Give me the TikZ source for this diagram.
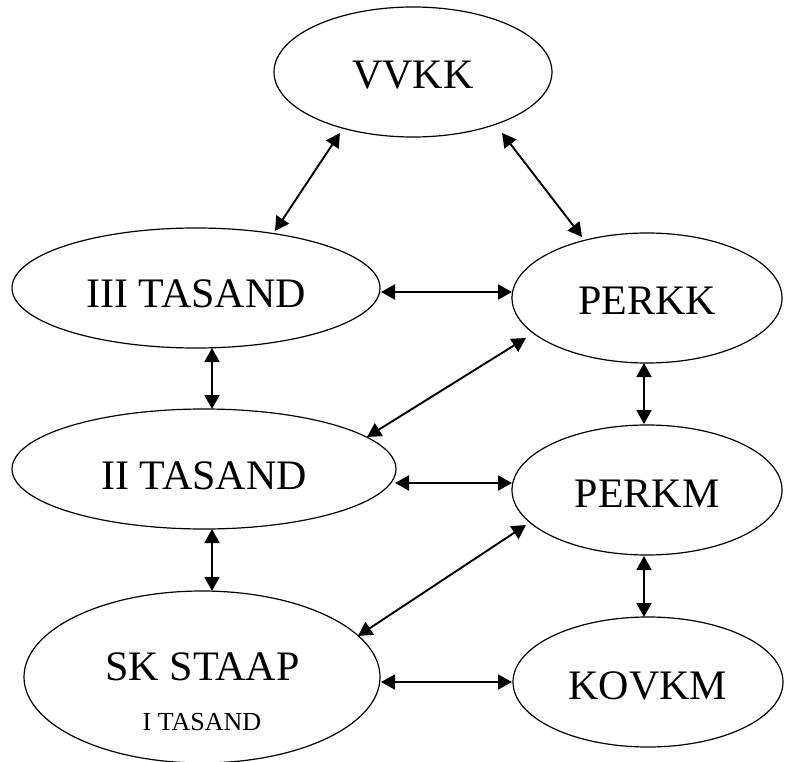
\documentclass[tikz,border=0pt]{standalone}
\usepackage{fontspec}
\setmainfont{Liberation Serif}
\usetikzlibrary{shapes.geometric,arrows.meta,calc}

\begin{document}
\begin{tikzpicture}[x=1pt,y=-1pt,
  oval/.style={draw,ellipse,line width=1.2pt,inner sep=0pt,
    font=\fontsize{42}{50}\selectfont,text height=34pt,text depth=0pt},
  lowtext/.style={text height=40pt},
  lbl/.style={inner sep=0pt,anchor=base},
  biarrow/.style={line width=1.9pt,{Triangle[length=14pt,width=15pt]}-{Triangle[length=14pt,width=15pt]}}]
\useasboundingbox (0,0) rectangle (785,762);

% ellipses
\node[oval,minimum width=278pt,minimum height=130pt] (vvkk)  at (413,72)  {VVKK};
\node[oval,lowtext,minimum width=368pt,minimum height=120pt] (iii)   at (196,288) {III TASAND};
\node[oval,minimum width=270pt,minimum height=130pt] (perkk) at (647,298) {PERKK};
\node[oval,lowtext,minimum width=384pt,minimum height=120pt] (ii)    at (204,469) {II TASAND};
\node[oval,minimum width=270pt,minimum height=130pt] (perkm) at (647,490) {PERKM};
\node[oval,minimum width=356pt,minimum height=172pt] (sk)    at (202,677) {};
\node[oval,minimum width=270pt,minimum height=130pt] (kovkm) at (648,682) {KOVKM};

% two-line text of the bottom-left ellipse
\node[lbl,font=\fontsize{42}{50}\selectfont] (skmain) at ($(sk)+(0.5,3)$) {SK STAAP};
\node[lbl,font=\fontsize{26}{30}\selectfont] (sksub)  at ($(sk)+(0,53)$) {I TASAND};

% connectors
\draw[biarrow] ($(vvkk)+(-73,61)$)  -- ($(iii)+(79,-57)$);
\draw[biarrow] ($(vvkk)+(89,61)$)   -- ($(perkk)+(-65,-61)$);
\draw[biarrow] ($(iii)+(185,4)$)    -- ($(perkk)+(-135,-6)$);
\draw[biarrow] ($(iii)+(16,60)$)    -- ($(ii)+(8,-60)$);
\draw[biarrow] ($(perkk)+(-121,40)$) -- ($(ii)+(163,-32)$);
\draw[biarrow] ($(perkk)+(-3,65)$)  -- ($(perkm)+(-3,-66)$);
\draw[biarrow] ($(ii)+(191,14)$)    -- ($(perkm)+(-135,-7)$);
\draw[biarrow] ($(ii)+(8,60)$)      -- ($(sk)+(10,-86)$);
\draw[biarrow] ($(perkm)+(-121,35)$) -- ($(sk)+(156,-41)$);
\draw[biarrow] ($(perkm)+(-3,66)$)  -- ($(kovkm)+(-4,-65)$);
\draw[biarrow] ($(sk)+(179,5)$)     -- ($(kovkm)+(-136,0)$);
\end{tikzpicture}
\end{document}
